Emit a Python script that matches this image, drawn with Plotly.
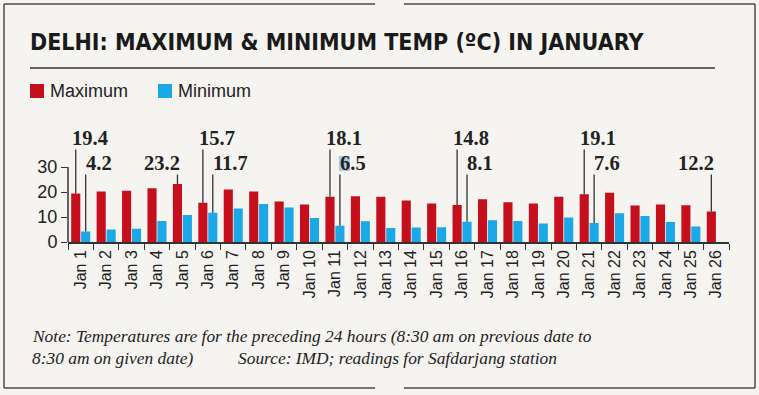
import plotly.graph_objects as go

# ---------------- data ----------------
days = ["Jan 1", "Jan 2", "Jan 3", "Jan 4", "Jan 5", "Jan 6", "Jan 7", "Jan 8", "Jan 9",
        "Jan 10", "Jan 11", "Jan 12", "Jan 13", "Jan 14", "Jan 15", "Jan 16", "Jan 17",
        "Jan 18", "Jan 19", "Jan 20", "Jan 21", "Jan 22", "Jan 23", "Jan 24", "Jan 25", "Jan 26"]
max_temp = [19.4, 20.2, 20.5, 21.5, 23.2, 15.7, 21.0, 20.2, 16.2, 15.0, 18.1, 18.3, 18.1,
            16.6, 15.4, 14.8, 17.1, 15.9, 15.4, 18.1, 19.1, 19.7, 14.6, 15.0, 14.7, 12.2]
min_temp = [4.2, 5.0, 5.3, 8.4, 10.8, 11.7, 13.4, 15.2, 13.8, 9.6, 6.5, 8.3, 5.6,
            5.8, 5.9, 8.1, 8.7, 8.4, 7.4, 9.8, 7.6, 11.5, 10.4, 8.0, 6.2, None]
y_ticks = [0, 10, 20, 30]

# labelled points: (day index, label row, anchor side)
max_labelled = [(0, 1, "left"), (4, 2, "right"), (5, 1, "left"), (10, 1, "left"),
                (15, 1, "left"), (20, 1, "left"), (25, 2, "right")]
min_labelled = [(0, 2, "left"), (5, 2, "left"), (10, 2, "left"), (15, 2, "left"), (20, 2, "left")]

title_text = "DELHI: MAXIMUM & MINIMUM TEMP (ºC) IN JANUARY"
note_line1 = "Note: Temperatures are for the preceding 24 hours (8:30 am on previous date to"
note_line2 = "8:30 am on given date)"
source_text = "Source: IMD; readings for Safdarjang station"

# ---------------- style ----------------
W_PX, H_PX = 759, 395
ML, MR, MT, MB = 68, 30, 127, 153
PW = W_PX - ML - MR
PH = H_PX - MT - MB
Y_MAX = 46

RED = "#c50f1d"
BLUE = "#1aa8e6"
INK = "#222222"
LINE = "#333333"
BG = "#f6f4f0"

BARGAP = 0.22
GROUPGAP = 0.08
slot = (1 - BARGAP) / 2
RED_OFF = -slot / 2
BLUE_OFF = slot / 2

ROW_Y = {1: 41.6, 2: 31.6}      # label centre (data units)
ROW_LINE_TOP = {1: 37.0, 2: 27.0}


def px(x):
    return (x - ML) / PW


def py(y):
    return (H_PX - MB - y) / PH


fig = go.Figure()
fig.add_trace(go.Bar(name="Maximum", x=days, y=max_temp, marker=dict(color=RED, line=dict(width=0))))
fig.add_trace(go.Bar(name="Minimum", x=days, y=min_temp, marker=dict(color=BLUE, line=dict(width=0))))

shapes = []
annotations = []

LABEL_FONT = dict(family="Liberation Serif, DejaVu Serif, serif", size=20.5, color=INK, weight="bold")


def add_label(idx, values, off, row, side, shift_left):
    v = values[idx]
    xc = idx + off
    shapes.append(dict(type="line", xref="x", yref="y", x0=xc, x1=xc, y0=v, y1=ROW_LINE_TOP[row],
                       line=dict(color=LINE, width=1.3)))
    annotations.append(dict(xref="x", yref="y", x=xc, y=ROW_Y[row], text=f"{v:.1f}", showarrow=False,
                            xanchor=side, yanchor="middle",
                            xshift=(shift_left if side == "left" else 5), font=LABEL_FONT))


for idx, row, side in max_labelled:
    add_label(idx, max_temp, RED_OFF, row, side, -6)
for idx, row, side in min_labelled:
    add_label(idx, min_temp, BLUE_OFF, row, side, -2)

# highlight artefact behind "6." of the 6.5 label
shapes.append(dict(type="rect", layer="below", xref="x", yref="y", xsizemode="pixel", ysizemode="pixel",
                   xanchor=10 + BLUE_OFF, yanchor=ROW_Y[2], x0=-1, x1=10, y0=-8, y1=7,
                   fillcolor="#a9cbe6", line=dict(width=0)))

# y axis line only from 0 to 30
shapes.append(dict(type="line", xref="paper", yref="y", x0=0, x1=0, y0=0, y1=y_ticks[-1],
                   line=dict(color=LINE, width=1.5)))

# frame with gaps top and bottom centre
frame = dict(color="#4a4a4a", width=1.5)
for (x0, y0, x1, y1) in [(4, 4, 375, 4), (404, 4, 755, 4), (4, 388, 375, 388), (404, 388, 755, 388),
                         (4, 4, 4, 388), (755, 4, 755, 388)]:
    shapes.append(dict(type="line", xref="paper", yref="paper", x0=px(x0), y0=py(y0), x1=px(x1), y1=py(y1),
                       line=frame))
# rule under title
shapes.append(dict(type="line", xref="paper", yref="paper", x0=px(30), x1=px(715), y0=py(68), y1=py(68),
                   line=dict(color=LINE, width=1.5)))

# hand-drawn legend
for (x0, col, name) in [(30, RED, "Maximum"), (158, BLUE, "Minimum")]:
    shapes.append(dict(type="rect", xref="paper", yref="paper", x0=px(x0), x1=px(x0 + 14),
                       y0=py(84), y1=py(98), fillcolor=col, line=dict(width=0)))
    annotations.append(dict(xref="paper", yref="paper", x=px(x0 + 18), y=py(91), text=name, showarrow=False,
                            xanchor="left", yanchor="middle",
                            font=dict(family="Liberation Sans, Arial, sans-serif", size=18, color=INK)))

# title
annotations.append(dict(xref="paper", yref="paper", x=px(28), y=py(42), text=title_text, showarrow=False,
                        xanchor="left", yanchor="middle",
                        font=dict(family="DejaVu Sans Condensed, sans-serif",
                                  size=23, color="#1a1a1a", weight="bold")))

NOTE_FONT = dict(family="Liberation Serif, serif", size=17.4, color=INK, style="italic")
annotations.append(dict(xref="paper", yref="paper", x=px(30), y=py(336), text=note_line1, showarrow=False,
                        xanchor="left", yanchor="middle", font=NOTE_FONT))
annotations.append(dict(xref="paper", yref="paper", x=px(30), y=py(358), text=note_line2, showarrow=False,
                        xanchor="left", yanchor="middle", font=NOTE_FONT))
annotations.append(dict(xref="paper", yref="paper", x=px(236), y=py(358), text=source_text, showarrow=False,
                        xanchor="left", yanchor="middle", font=NOTE_FONT))

fig.update_layout(
    width=W_PX, height=H_PX,
    margin=dict(l=ML, r=MR, t=MT, b=MB, pad=0, autoexpand=False),
    paper_bgcolor=BG, plot_bgcolor=BG,
    barmode="group", bargap=BARGAP, bargroupgap=GROUPGAP,
    showlegend=False,
    shapes=shapes, annotations=annotations,
    xaxis=dict(type="category", range=[-0.5, len(days) - 0.5], showgrid=False, zeroline=False,
               showline=True, linecolor=LINE, linewidth=1.5,
               ticks="outside", ticklen=6, tickwidth=1.3, tickcolor=LINE, tickson="boundaries",
               tickangle=-90, tickfont=dict(family="Liberation Sans, Arial, sans-serif", size=16, color=INK),
               automargin=False, fixedrange=True),
    yaxis=dict(range=[0, Y_MAX], tickvals=y_ticks, showgrid=False, zeroline=False, showline=False,
               ticks="outside", ticklen=6, tickwidth=1.3, tickcolor=LINE,
               tickfont=dict(family="Liberation Sans, Arial, sans-serif", size=18, color=INK),
               automargin=False, fixedrange=True),
)

fig.write_html("out.html", config={"displayModeBar": False},
               post_script="document.body.style.margin='0';document.body.style.overflow='hidden';"
                           "document.body.style.background='" + BG + "';")
